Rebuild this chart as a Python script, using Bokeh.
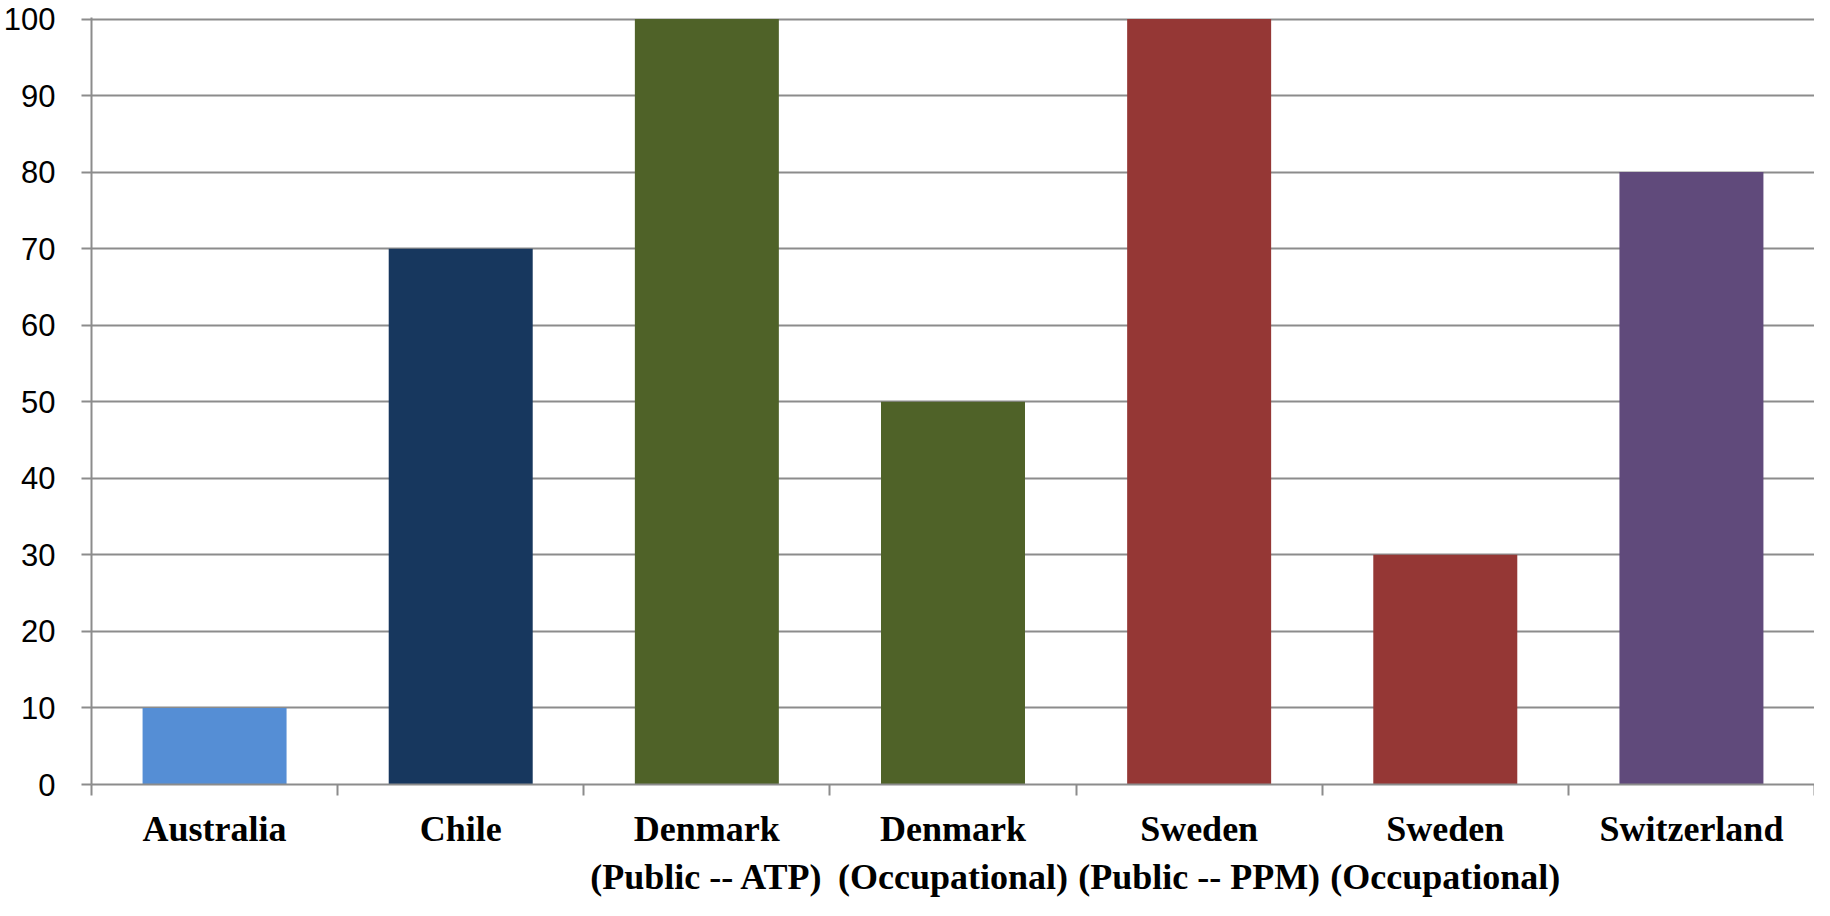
from bokeh.plotting import figure
from bokeh.models import Range1d, FixedTicker, LinearAxis, ColumnDataSource
from bokeh.embed import file_html
from bokeh.resources import INLINE

categories = ["Australia", "Chile", "Denmark\n(Public -- ATP)", "Denmark\n(Occupational)",
              "Sweden\n(Public -- PPM)", "Sweden\n(Occupational)", "Switzerland"]
values = [10, 70, 100, 50, 100, 30, 80]
colors = ["#558ED5", "#17375E", "#4F6228", "#4F6228", "#953735", "#953735", "#604A7B"]
y_ticks = [0, 10, 20, 30, 40, 50, 60, 70, 80, 90, 100]

n = len(categories)
xs = [i + 0.5 for i in range(n)]
src = ColumnDataSource(dict(x=xs, top=values, color=colors))

p = figure(width=1814, height=900, output_backend="svg", toolbar_location=None,
           x_range=Range1d(0, n), y_range=Range1d(0, 100.2),
           x_axis_location=None, y_axis_location=None,
           min_border_left=91, min_border_right=0, min_border_top=17, min_border_bottom=107)
p.outline_line_color = None
p.background_fill_color = "white"

p.vbar(x="x", top="top", bottom=0, width=0.585, fill_color="color", line_color=None, source=src)

grey = "#8C8C8C"
yaxis = LinearAxis(ticker=FixedTicker(ticks=y_ticks, minor_ticks=[]))
yaxis.axis_line_color = grey
yaxis.axis_line_width = 2
yaxis.major_tick_line_color = grey
yaxis.major_tick_line_width = 2
yaxis.major_tick_out = 10
yaxis.major_tick_in = 0
yaxis.major_label_standoff = 26
yaxis.major_label_text_font = "Liberation Sans"
yaxis.major_label_text_font_size = "31px"
yaxis.major_label_text_color = "black"
p.add_layout(yaxis, "left")

xaxis = LinearAxis(ticker=FixedTicker(ticks=xs, minor_ticks=list(range(n + 1))))
xaxis.major_label_overrides = {x: c for x, c in zip(xs, categories)}
xaxis.axis_line_color = grey
xaxis.axis_line_width = 2
xaxis.major_tick_line_color = None
xaxis.major_tick_out = 0
xaxis.major_tick_in = 0
xaxis.minor_tick_line_color = grey
xaxis.minor_tick_line_width = 2
xaxis.minor_tick_out = 11
xaxis.minor_tick_in = 0
xaxis.major_label_standoff = 13
xaxis.major_label_text_font = "Liberation Serif"
xaxis.major_label_text_font_style = "bold"
xaxis.major_label_text_font_size = "36px"
xaxis.major_label_text_line_height = 1.22
xaxis.major_label_text_color = "black"
p.add_layout(xaxis, "below")

p.xgrid.visible = False
p.ygrid.ticker = FixedTicker(ticks=y_ticks)
p.ygrid.grid_line_color = grey
p.ygrid.grid_line_width = 2

open("out.html", "w").write(file_html(p, INLINE))
